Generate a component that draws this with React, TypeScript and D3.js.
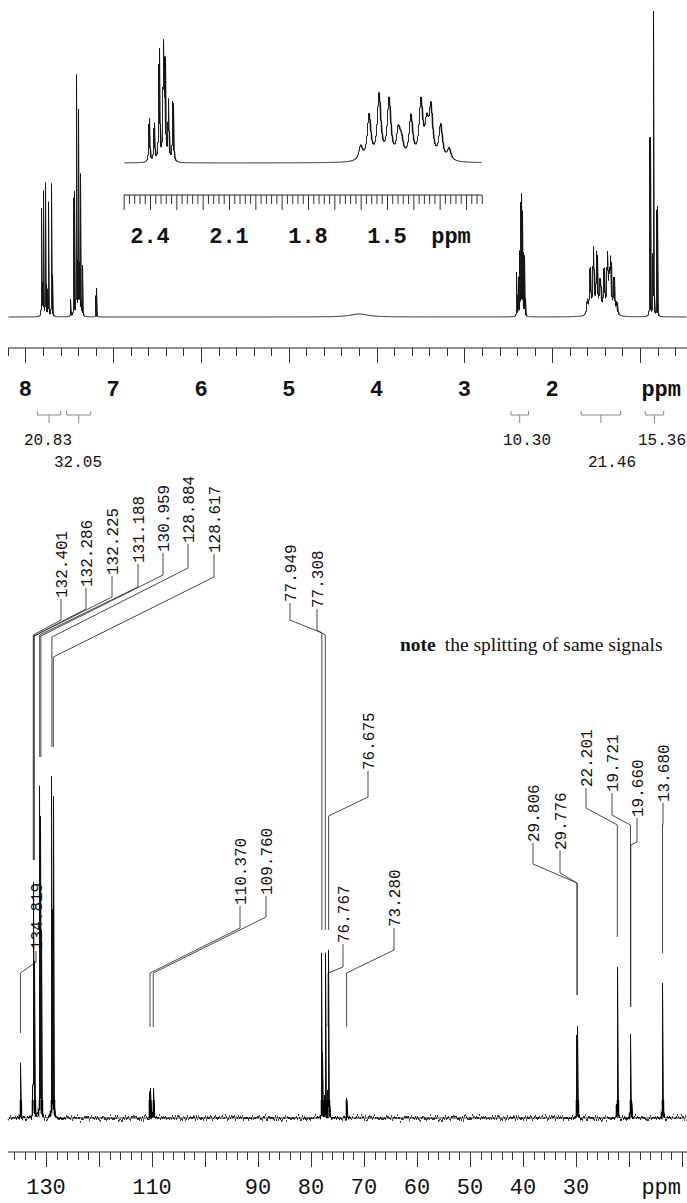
import React from 'react';
import * as d3 from 'd3';

// ---------- 1H spectrum data (ppm, relative intensity, half-width ppm) ----------
const H_PPM = [7.814, 7.796, 7.769, 7.739, 7.700, 7.484, 7.446, 7.416, 7.393, 7.375, 7.352, 7.195, 4.20,
  2.403, 2.384, 2.365, 2.349, 2.343, 2.330, 2.313,
  1.600, 1.568, 1.530, 1.492, 1.457, 1.445, 1.409, 1.371, 1.349, 1.333, 1.296, 1.264,
  0.886, 0.848, 0.806];
const H_INT = [35.1, 40.7, 43.6, 37.4, 43.6, 5.6, 40.7, 78.7, 66.9, 45.9, 16.4, 9.5, 1.0,
  14.4, 12.4, 36.6, 36.6, 30.3, 19.6, 19.6,
  4.6, 14.8, 21.3, 19.7, 8.9, 5.6, 14.1, 18.7, 10.2, 16.4, 11.5, 3.9,
  58.7, 100, 36.1];
const H_WID = [0.002, 0.002, 0.002, 0.002, 0.002, 0.002, 0.002, 0.002, 0.002, 0.002, 0.002, 0.0015, 0.12,
  0.002, 0.002, 0.002, 0.002, 0.002, 0.002, 0.002,
  0.008, 0.008, 0.008, 0.008, 0.008, 0.008, 0.008, 0.008, 0.008, 0.008, 0.008, 0.008,
  0.002, 0.002, 0.002];

// integrals
const INT_VALUES = ['20.83', '32.05', '10.30', '21.46', '15.36'];
const INT_FROM = [7.864, 7.530, 2.47, 1.67, 0.94];
const INT_TO = [7.598, 7.256, 2.27, 1.22, 0.73];
const INT_LABEL_X = [48, 78, 527, 612, 662];
const INT_ROW = [0, 1, 0, 1, 0];

// axis labels
const H_TICK_LABELS = [8, 7, 6, 5, 4, 3, 2];
const INSET_TICK_LABELS = [2.4, 2.1, 1.8, 1.5];
const C_TICK_LABELS = [130, 110, 90, 80, 70, 60, 50, 40, 30];

// ---------- 13C spectrum data ----------
const C_PPM = [134.819, 132.401, 132.286, 132.225, 131.188, 130.959, 128.884, 128.617, 110.370, 109.760,
  77.949, 77.308, 76.767, 76.675, 73.280, 29.806, 29.776, 22.201, 19.721, 19.660, 13.680];
const C_INT = [16.2, 67.6, 44, 41, 97, 88, 100, 94, 8.8, 8.8,
  48.5, 48.5, 17.6, 48.5, 5.9, 22, 16, 44.4, 23, 17.6, 39.7];
const C_WID = 0.02;

// label layout (annotation placement)
const LBL_TX = [36, 61, 86, 112, 138, 163, 188, 214, 240, 266, 290, 317, 343, 368, 394, 533, 560, 586, 612, 637, 663];
const LBL_BOTTOM = [950, 598, 587, 575, 563, 552, 543, 553, 905, 895, 602, 608, 943, 770, 927, 842, 850, 787, 792, 817, 802];
const LBL_ELBOW = [962, 620, 609, 597, 587, 575, 568, 577, 928, 917, 620, 630, 967, 797, 950, 864, 873, 808, 815, 842, 825];
const LBL_DIAG = [973, 635, 636, 636, 635, 636, 637, 657, 973, 973, 633, 635, 973, 816, 973, 883, 883, 825, 825, 845, 825];
const LBL_END = [1033, 860, 860, 860, 757, 757, 747, 747, 1027, 1027, 930, 930, 1027, 930, 1027, 995, 995, 937, 1007, 1007, 953];

const MONO = "'Liberation Mono', 'Courier New', monospace";
const SERIF = "'Liberation Serif', 'Times New Roman', serif";

function spectrumPath(xs: any, ys: any, ppm: number[], amp: number[], wid: (i: number) => number, x0: number, x1: number, sub = 6) {
  const f = (d: number) => {
    let s = 0;
    for (let i = 0; i < ppm.length; i++) {
      const t = (d - ppm[i]) / wid(i);
      s += amp[i] / (1 + t * t);
    }
    return s;
  };
  let path = '';
  for (let px = x0; px < x1; px++) {
    const a = xs.invert(px), b = xs.invert(px + 1);
    const lo = Math.min(a, b), hi = Math.max(a, b);
    let mn = Infinity, mx = -Infinity;
    for (let k = 0; k <= sub; k++) {
      const v = f(lo + (hi - lo) * k / sub);
      if (v < mn) mn = v;
      if (v > mx) mx = v;
    }
    for (let i = 0; i < ppm.length; i++) {
      if (ppm[i] >= lo && ppm[i] <= hi) {
        const v = f(ppm[i]);
        if (v > mx) mx = v;
      }
    }
    const cx = px + 0.5;
    path += (px === x0 ? 'M' : 'L') + cx + ',' + ys(mn).toFixed(2) + 'L' + cx + ',' + ys(mx).toFixed(2);
  }
  return path;
}

export default function App() {
  const W = 687, H = 1203;
  const xH = d3.scaleLinear().domain([8, 2]).range([25.4, 552.2]);
  const yH = d3.scaleLinear().domain([0, 100]).range([317, 12]);
  const xI = d3.scaleLinear().domain([2.4, 1.5]).range([150, 387]);
  const yI = d3.scaleLinear().domain([0, 100]).range([163, -142]);
  const xC = d3.scaleLinear().domain([130, 30]).range([46, 576]);
  const yC = d3.scaleLinear().domain([0, 100]).range([1118, 778]);

  const hPath = spectrumPath(xH, yH, H_PPM, H_INT, (i) => H_WID[i], 8, W);
  const iPath = spectrumPath(xI, yI, H_PPM, H_INT, (i) => H_WID[i], Math.round(xI(2.5)), Math.round(xI(1.14)));
  const cPath = spectrumPath(xC, yC, C_PPM, C_INT, () => C_WID, 8, W);

  // ticks
  const hTicks = d3.range(0, 40).map((i) => +(8.2 - i * 0.2).toFixed(2)).filter((v) => xH(v) >= 7 && xH(v) <= W);
  const iTicks = d3.range(0, 69).map((i) => +(2.5 - i * 0.02).toFixed(2)).filter((v) => v >= 1.139);
  const cTicks = d3.range(0, 70).map((i) => 136 - i * 2).filter((v) => xC(v) >= 7 && xC(v) <= W);

  const axisH = 348, axisI = 195, axisC = 1152;

  return (
    <svg width={W} height={H} style={{ position: 'absolute', left: 0, top: 0, background: '#fff' }}>
      <defs>
        <filter id="noise" filterUnits="userSpaceOnUse" x="0" y="1080" width={W} height="60" colorInterpolationFilters="sRGB">
          <feTurbulence type="fractalNoise" baseFrequency="0.8 0.02" numOctaves={3} seed={7} result="t" />
          <feColorMatrix in="t" type="matrix" values="0 0 0 0 0.5  0 1 0 0 0  0 0 1 0 0  0 0 0 0 1" result="m" />
          <feDisplacementMap in="SourceGraphic" in2="m" scale={11} xChannelSelector="R" yChannelSelector="G" />
        </filter>
        <clipPath id="baseClip">
          <rect x={0} y={1100} width={W} height={40} />
        </clipPath>
      </defs>
      <rect x={0} y={0} width={W} height={H} fill="#fff" />

      {/* 1H spectrum */}
      <path d={hPath} fill="none" stroke="#111" strokeWidth={0.9} />

      {/* inset */}
      <path d={iPath} fill="none" stroke="#111" strokeWidth={0.9} />
      <line x1={xI(2.5)} x2={xI(1.14)} y1={axisI} y2={axisI} stroke="#222" strokeWidth={1} />
      {iTicks.map((t) => {
        const major = Math.abs(t * 10 - Math.round(t * 10)) < 1e-6;
        return <line key={'it' + t} x1={xI(t) + 0.5} x2={xI(t) + 0.5} y1={axisI} y2={axisI + (major ? 15 : 9)} stroke="#333" strokeWidth={1} />;
      })}
      {INSET_TICK_LABELS.map((t) => (
        <text key={'il' + t} x={xI(t)} y={243} textAnchor="middle" fontFamily={MONO} fontWeight="bold" fontSize={22} fill="#111">{t.toFixed(1)}</text>
      ))}
      <text x={451} y={243} textAnchor="middle" fontFamily={MONO} fontWeight="bold" fontSize={22} fill="#111">ppm</text>

      {/* 1H axis */}
      <line x1={8} x2={W} y1={axisH} y2={axisH} stroke="#222" strokeWidth={1} />
      {hTicks.map((t) => {
        const major = Math.abs(t - Math.round(t)) < 1e-6;
        return <line key={'ht' + t} x1={Math.round(xH(t)) + 0.5} x2={Math.round(xH(t)) + 0.5} y1={axisH} y2={axisH + (major ? 15 : 8)} stroke="#333" strokeWidth={1} />;
      })}
      {H_TICK_LABELS.map((t) => (
        <text key={'hl' + t} x={xH(t)} y={396} textAnchor="middle" fontFamily={MONO} fontWeight="bold" fontSize={22} fill="#111">{t}</text>
      ))}
      <text x={681} y={396} textAnchor="end" fontFamily={MONO} fontWeight="bold" fontSize={22} fill="#111">ppm</text>

      {/* integrals */}
      {INT_VALUES.map((v, i) => {
        const a = xH(INT_FROM[i]), b = xH(INT_TO[i]), m = xH((INT_FROM[i] + INT_TO[i]) / 2);
        return (
          <g key={'int' + i}>
            <path d={`M${a},411V415H${b}V411M${m},415V423`} fill="none" stroke="#888" strokeWidth={1} />
            <text x={INT_LABEL_X[i]} y={INT_ROW[i] === 0 ? 445 : 467} textAnchor="middle" fontFamily={MONO} fontSize={16} fill="#111">{v}</text>
          </g>
        );
      })}

      {/* 13C labels */}
      {C_PPM.map((p, i) => {
        const px = xC(p);
        const tx = LBL_TX[i];
        return (
          <g key={'cl' + i}>
            <text transform={`translate(${tx},${LBL_BOTTOM[i]}) rotate(-90)`} dy="0.35em" fontFamily={MONO} fontSize={16} fill="#111">{p.toFixed(3)}</text>
            <path d={`M${tx},${LBL_BOTTOM[i] + 1}V${LBL_ELBOW[i]}L${px},${LBL_DIAG[i]}V${LBL_END[i]}`} fill="none" stroke="#333" strokeWidth={0.9} />
          </g>
        );
      })}

      {/* note */}
      <text x={400} y={651} fontFamily={SERIF} fontSize={19.5} fill="#111">
        <tspan fontWeight="bold">note</tspan>
        <tspan dx={9}>the splitting of same signals</tspan>
      </text>

      {/* 13C spectrum: thin trace + noisy baseline band */}
      <path d={cPath} fill="none" stroke="#111" strokeWidth={1} />
      <g clipPath="url(#baseClip)">
        <g filter="url(#noise)">
          <path d={cPath} fill="none" stroke="#000" strokeWidth={1.6} />
        </g>
      </g>

      {/* 13C axis */}
      <line x1={8} x2={W} y1={axisC} y2={axisC} stroke="#222" strokeWidth={1} />
      {cTicks.map((t) => {
        const major = t % 10 === 0;
        return <line key={'ct' + t} x1={Math.round(xC(t)) + 0.5} x2={Math.round(xC(t)) + 0.5} y1={axisC} y2={axisC + (major ? 15 : 8)} stroke="#333" strokeWidth={1} />;
      })}
      {C_TICK_LABELS.map((t) => (
        <text key={'cl' + t} x={xC(t)} y={1194} textAnchor="middle" fontFamily={MONO} fontSize={22} fill="#111">{t}</text>
      ))}
      <text x={681} y={1194} textAnchor="end" fontFamily={MONO} fontSize={22} fill="#111">ppm</text>
    </svg>
  );
}
